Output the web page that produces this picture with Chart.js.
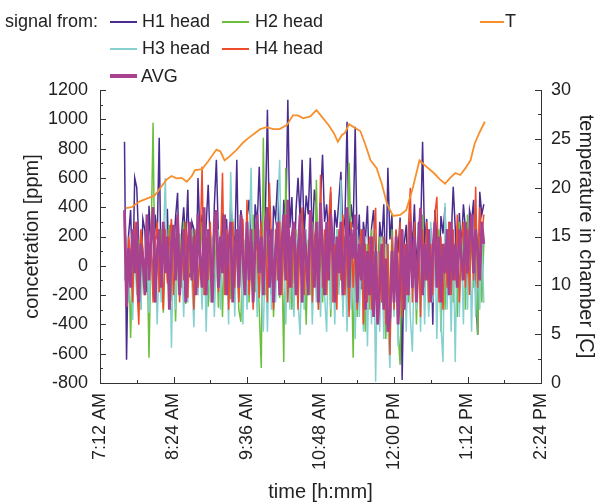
<!DOCTYPE html>
<html>
<head>
<meta charset="utf-8">
<script src="https://cdn.jsdelivr.net/npm/chart.js@4/dist/chart.umd.min.js"></script>
<style>
  body{margin:0;background:#fff;}
  #wrap{position:relative;width:598px;height:504px;font-family:"Liberation Sans",Arial,sans-serif;color:#222;}
  canvas{position:absolute;left:0;top:0;}
  .lg{position:absolute;font-size:18px;line-height:18px;white-space:nowrap;}
  .sw{position:absolute;height:0;}
</style>
</head>
<body>
<div id="wrap">
  <canvas id="chart" width="598" height="504"></canvas>
  <div class="lg" style="left:5px;top:12px;">signal from:</div>
  <div class="sw" style="left:110px;top:21px;width:27px;border-top:2px solid #4a2c8f;"></div>
  <div class="lg" style="left:142px;top:12px;">H1 head</div>
  <div class="sw" style="left:222px;top:21px;width:27px;border-top:2px solid #6cbf3c;"></div>
  <div class="lg" style="left:255px;top:12px;">H2 head</div>
  <div class="sw" style="left:110px;top:48px;width:27px;border-top:2px solid #86d0d0;"></div>
  <div class="lg" style="left:142px;top:39px;">H3 head</div>
  <div class="sw" style="left:222px;top:48px;width:27px;border-top:2px solid #ee4b2b;"></div>
  <div class="lg" style="left:255px;top:39px;">H4 head</div>
  <div class="sw" style="left:110px;top:74px;width:27px;border-top:4px solid #a8428e;"></div>
  <div class="lg" style="left:141px;top:67px;">AVG</div>
  <div class="sw" style="left:480px;top:21px;width:24px;border-top:2px solid #f7902c;"></div>
  <div class="lg" style="left:505px;top:12px;">T</div>
</div>
<script>
// time in minutes since midnight (2 min sampling)
const times=[456,458,460,462,464,466,468,470,472,474,
  476,478,480,482,484,486,488,490,492,494,
  496,498,500,502,504,506,508,510,512,514,
  516,518,520,522,524,526,528,530,532,534,
  536,538,540,542,544,546,548,550,552,554,
  556,558,560,562,564,566,568,570,572,574,
  576,578,580,582,584,586,588,590,592,594,
  596,598,600,602,604,606,608,610,612,614,
  616,618,620,622,624,626,628,630,632,634,
  636,638,640,642,644,646,648,650,652,654,
  656,658,660,662,664,666,668,670,672,674,
  676,678,680,682,684,686,688,690,692,694,
  696,698,700,702,704,706,708,710,712,714,
  716,718,720,722,724,726,728,730,732,734,
  736,738,740,742,744,746,748,750,752,754,
  756,758,760,762,764,766,768,770,772,774,
  776,778,780,782,784,786,788,790,792,794,
  796,798,800,802,804,806,808];

const h1=[847,-642,210,380,-120,600,533,150,-90,320,
  240,-180,410,90,-60,350,180,874,-150,260,
  120,390,-200,280,60,330,498,-110,220,400,
  140,519,-80,300,250,-190,600,180,350,-60,
  280,553,130,-220,410,724,200,-130,360,90,
  320,-160,440,240,120,724,-90,380,260,-200,
  330,450,150,-100,420,280,676,190,-150,360,
  1065,240,-200,410,320,587,120,-80,450,300,
  1134,260,470,-120,380,600,330,724,210,480,
  350,738,160,520,400,-90,450,758,300,420,
  180,500,-110,380,260,450,642,200,330,983,
  150,420,260,949,80,350,-160,300,180,410,
  -100,260,380,50,-220,300,150,420,-130,669,
  180,350,-260,240,90,330,-779,150,280,-180,
  360,120,420,-50,300,200,847,150,320,-120,
  260,-403,380,180,-90,340,220,400,-150,300,
  180,539,260,-200,360,120,420,250,-100,380,
  300,450,-180,-471,505,350,420];

const h2=[300,-200,120,-492,60,250,-150,180,-300,90,
  -100,200,-628,150,977,-250,120,-180,250,-320,
  100,-60,280,-240,150,-380,60,220,-150,300,
  -260,120,-50,250,-330,180,-120,60,300,-200,
  150,-280,240,80,-180,200,-287,120,-350,260,
  -100,180,-230,320,-60,150,-300,-382,200,-150,
  280,-250,120,350,-180,80,-300,-697,874,-200,
  250,-120,180,-350,90,300,-220,150,-656,669,
  -180,200,-300,120,250,-150,350,-250,100,-403,
  180,-200,300,-120,587,-300,150,-250,220,-80,
  300,-350,120,-200,250,-150,60,-300,200,-250,
  703,150,-628,200,-350,100,250,-200,-450,150,
  -300,250,-150,80,-400,200,-250,120,-500,150,
  -350,250,-200,100,-450,-676,200,-300,150,-250,
  300,-150,200,-400,100,-250,350,-150,220,-300,
  150,-200,300,-100,250,-450,120,-300,200,-150,
  280,-250,150,-350,300,-100,200,-300,350,-200,
  250,-150,300,-471,200,-250,150];

const h3=[-100,200,-250,80,-369,150,-200,50,-300,120,
  -150,250,-320,100,-200,180,-400,60,-250,150,
  600,-100,180,-560,120,-300,200,-150,80,-350,
  150,-250,250,-100,-420,180,-200,100,-300,220,
  -450,120,-250,200,-350,60,250,-300,150,-200,
  100,-400,642,150,-348,200,-250,50,-400,180,
  -300,120,669,-200,150,-350,250,-150,-450,100,
  -450,200,-300,150,-250,350,724,-200,100,-400,
  250,-300,150,-350,200,-250,-471,120,-300,250,
  -200,150,-400,100,-250,300,-350,150,-200,-450,
  200,-300,120,-400,250,-200,587,-350,150,-450,
  200,-300,100,-500,250,-350,150,-450,200,-550,
  150,-400,250,-792,100,-450,200,-500,150,-400,
  -697,200,-350,100,-550,250,-300,150,-450,200,
  -350,-587,100,-300,250,-450,150,-400,200,-350,
  300,-250,150,-500,200,-400,-656,430,-300,150,
  -450,200,-656,250,-350,150,-400,300,-300,200,
  -450,250,-350,150,-300,200,-253];

const h4=[350,-150,200,80,-250,300,-100,-403,250,120,
  -200,350,-50,200,-250,150,300,-180,100,-300,
  250,-120,180,320,-200,60,250,-250,150,-100,
  300,-220,180,50,-300,250,-150,120,676,-200,
  200,-100,300,-250,150,350,-180,80,635,-200,
  250,-300,150,300,-150,200,-250,100,320,-180,
  450,-200,150,-300,250,80,-220,300,-150,200,
  -250,567,150,-300,250,-100,300,-200,150,350,
  -250,200,-150,300,100,-300,250,400,-200,150,
  -100,350,-250,200,120,-300,621,-150,250,-200,
  300,539,-250,150,-300,250,-100,350,-200,150,
  -350,300,-150,200,-300,100,250,-400,150,-250,
  200,-300,150,396,-350,100,-250,200,-400,150,
  -608,200,-300,250,-150,300,-350,150,-200,250,
  533,-250,300,-150,200,-350,250,-100,300,-250,
  150,-200,350,471,-250,200,-300,150,-150,300,
  -200,250,-100,350,-250,150,300,-150,250,-200,
  350,-100,539,-150,400,200,350];

const avg=[380,-280,120,-150,250,-50,300,-250,150,50,
  -200,350,-100,200,400,-250,100,250,-150,300,
  -50,200,-300,150,280,-100,350,-200,100,250,
  -250,150,300,-100,200,-200,350,50,-150,400,
  -200,250,100,-250,300,380,-150,200,-50,350,
  -200,150,300,-250,100,250,-150,350,50,-200,
  300,-100,250,-250,150,350,-50,200,-200,300,
  400,-150,250,-250,100,300,-200,150,350,-100,
  450,-150,200,300,-200,100,350,-250,250,50,
  -200,380,150,-150,300,-250,430,100,-200,300,
  -100,350,150,-250,200,-50,300,-200,100,400,
  -150,250,50,350,-250,150,-100,250,-300,100,
  -200,200,-350,100,-400,-150,150,-300,50,-450,
  -350,100,-250,200,-400,-100,250,-300,150,-200,
  300,-150,200,-250,100,396,-200,150,-100,250,
  -250,100,300,-150,200,-250,150,-50,250,-200,
  300,-100,150,-150,250,50,-100,300,-50,200,
  350,-50,250,100,-100,300,150];

// chamber temperature
const tTimes=[457,463,471,481,486,492,497,502,507,512,517,522,525,532,538,546,550,554,559,566,
  572,577,584,589,595,602,608,615,621,626,631,638,644,649,656,661,665,669,672,676,
  682,687,692,697,703,708,713,719,726,732,738,745,750,759,765,770,775,780,785,790,
  795,799,804,809];
const tVals=[17.9,18.0,18.6,19.0,19.25,20.1,20.8,21.2,20.95,21.0,20.6,21.2,21.8,21.9,22.7,23.9,23.7,22.8,23.2,23.9,
  24.6,25.05,25.6,26.0,26.2,26.0,26.0,26.4,27.4,27.4,27.1,27.3,27.95,27.3,26.4,25.6,24.7,25.4,25.6,26.5,
  26.1,25.8,24.4,22.8,22.0,20.4,18.4,17.1,17.2,17.7,19.8,22.8,22.3,21.5,20.85,20.4,21.0,21.5,21.3,22.0,
  22.8,24.5,25.7,26.75];

const xTicks=[432,504,576,648,720,792,864];
const xTickLabels=['7:12 AM','8:24 AM','9:36 AM','10:48 AM','12:00 PM','1:12 PM','2:24 PM'];

const pts=(xs,ys)=>xs.map((x,i)=>({x:x,y:ys[i]}));
const FONT='"Liberation Sans", Arial, sans-serif';
const AX='#333';

// inward tick marks, major and minor
const tickPlugin={
  id:'inTicks',
  afterDraw(chart){
    const {ctx,chartArea:a,scales:{x,y,y1}}=chart;
    ctx.save();
    ctx.strokeStyle=AX; ctx.lineWidth=1;
    ctx.beginPath();
    for(let t=432;t<=864;t+=36){
      const px=Math.round(x.getPixelForValue(t))+0.5;
      const len=((t-432)%72===0)?6:3;
      ctx.moveTo(px,a.bottom); ctx.lineTo(px,a.bottom-len);
    }
    for(let v=-800;v<=1200;v+=100){
      const py=Math.round(y.getPixelForValue(v))+0.5;
      const len=(v%200===0)?6:3;
      ctx.moveTo(a.left,py); ctx.lineTo(a.left+len,py);
    }
    for(let v=0;v<=30;v+=2.5){
      const py=Math.round(y1.getPixelForValue(v))+0.5;
      const len=(v%5===0)?6:3;
      ctx.moveTo(a.right,py); ctx.lineTo(a.right-len,py);
    }
    ctx.stroke();
    ctx.restore();
  }
};

new Chart(document.getElementById('chart'),{
  type:'line',
  data:{datasets:[
    {label:'T',data:pts(tTimes,tVals),yAxisID:'y1',borderColor:'#f7902c',borderWidth:1.8},
    {label:'AVG',data:pts(times,avg),yAxisID:'y',borderColor:'#a8428e',borderWidth:2.8},
    {label:'H4 head',data:pts(times,h4),yAxisID:'y',borderColor:'#ee4b2b',borderWidth:1.5},
    {label:'H3 head',data:pts(times,h3),yAxisID:'y',borderColor:'#86d0d0',borderWidth:1.5},
    {label:'H2 head',data:pts(times,h2),yAxisID:'y',borderColor:'#6cbf3c',borderWidth:1.5},
    {label:'H1 head',data:pts(times,h1),yAxisID:'y',borderColor:'#4a2c8f',borderWidth:1.5}
  ]},
  options:{
    responsive:false,
    animation:false,
    layout:{padding:{top:90,left:0,right:0,bottom:0}},
    elements:{point:{radius:0},line:{tension:0}},
    plugins:{legend:{display:false},tooltip:{enabled:false}},
    scales:{
      x:{
        type:'linear',min:432,max:864,
        afterFit:s=>{s.height=121;},
        afterBuildTicks:s=>{s.ticks=xTicks.map(v=>({value:v}));},
        grid:{display:false,drawTicks:false},
        border:{display:true,color:AX,width:1},
        ticks:{minRotation:90,maxRotation:90,padding:10,color:'#222',font:{family:FONT,size:18},
          callback:(v)=>xTickLabels[xTicks.indexOf(v)]},
        title:{display:true,text:'time [h:mm]',color:'#222',font:{family:FONT,size:20},padding:{top:0,bottom:0}}
      },
      y:{
        position:'left',min:-800,max:1200,
        afterFit:s=>{s.width=100;},
        grid:{display:false,drawTicks:false},
        border:{display:true,color:AX,width:1},
        ticks:{stepSize:200,padding:12,color:'#222',font:{family:FONT,size:18},callback:v=>String(v)},
        title:{display:true,text:'concetration [ppm]',color:'#222',font:{family:FONT,size:20},padding:{top:20,bottom:0}}
      },
      y1:{
        position:'right',min:0,max:30,
        afterFit:s=>{s.width=57;},
        grid:{display:false,drawTicks:false},
        border:{display:true,color:AX,width:1},
        ticks:{stepSize:5,padding:10,color:'#222',font:{family:FONT,size:18},callback:v=>String(v)},
        title:{display:true,text:'temperature in chamber [C]',color:'#222',font:{family:FONT,size:20},padding:{top:0,bottom:0}}
      }
    }
  },
  plugins:[tickPlugin]
});
</script>
</body>
</html>
